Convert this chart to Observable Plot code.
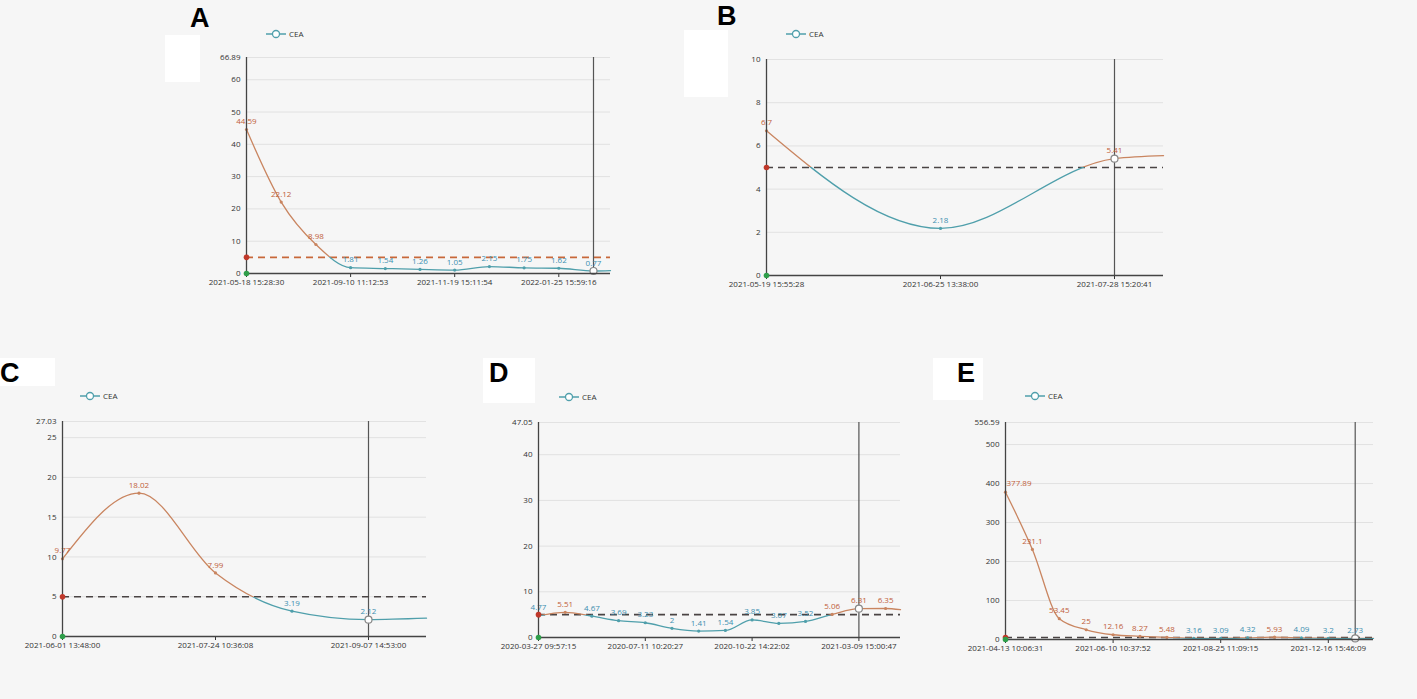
<!DOCTYPE html>
<html>
<head>
<meta charset="utf-8">
<script src="https://cdn.jsdelivr.net/npm/d3@7"></script>
<script src="https://cdn.jsdelivr.net/npm/@observablehq/plot@0.6"></script>
<style>
  html, body { margin: 0; padding: 0; background: #f6f6f6; }
  #root { position: relative; width: 1417px; height: 699px; overflow: hidden; background: #f6f6f6; font-family: "Liberation Sans", Arial, sans-serif; }
  .white { position: absolute; background: #ffffff; }
  .letter { position: absolute; font-weight: bold; font-size: 27px; color: #000; line-height: 1; font-family: "Liberation Sans", Arial, sans-serif; }
  .legend { position: absolute; font-size: 8px; color: #333; display: flex; align-items: center; gap: 3px; font-family: "Open Sans", sans-serif; }
  .panel { position: absolute; }
</style>
</head>
<body>
<div id="root"></div>
<script>
// ---------- DATA ----------
const valuesA = [44.59, 22.12, 8.98, 1.81, 1.54, 1.26, 1.05, 2.15, 1.75, 1.62, 0.77];
const tailA = 0.9;
const tickIdxA = [0, 3, 6, 9];
const tickLabelsA = ["2021-05-18 15:28:30", "2021-09-10 11:12:53", "2021-11-19 15:11:54", "2022-01-25 15:59:16"];
const yMaxA = 66.89;
const yTicksA = [0, 10, 20, 30, 40, 50, 60];
const selA = 10;

const valuesB = [6.7, 2.18, 5.41];
const tailB = 5.55;
const tickIdxB = [0, 1, 2];
const tickLabelsB = ["2021-05-19 15:55:28", "2021-06-25 13:38:00", "2021-07-28 15:20:41"];
const yMaxB = 10;
const yTicksB = [0, 2, 4, 6, 8];
const selB = 2;

const valuesC = [9.77, 18.02, 7.99, 3.19, 2.12];
const tailC = 2.3;
const tickIdxC = [0, 2, 4];
const tickLabelsC = ["2021-06-01 13:48:00", "2021-07-24 10:36:08", "2021-09-07 14:53:00"];
const yMaxC = 27.03;
const yTicksC = [0, 5, 10, 15, 20, 25];
const selC = 4;

const valuesD = [4.77, 5.51, 4.67, 3.69, 3.23, 2, 1.41, 1.54, 3.85, 3.07, 3.52, 5.06, 6.31, 6.35];
const tailD = 6.1;
const tickIdxD = [0, 4, 8, 12];
const tickLabelsD = ["2020-03-27 09:57:15", "2020-07-11 10:20:27", "2020-10-22 14:22:02", "2021-03-09 15:00:47"];
const yMaxD = 47.05;
const yTicksD = [0, 10, 20, 30, 40];
const selD = 12;

const valuesE = [377.89, 231.1, 53.45, 25, 12.16, 8.27, 5.48, 3.16, 3.09, 4.32, 5.93, 4.09, 3.2, 2.73];
const tailE = 2.7;
const tickIdxE = [0, 4, 8, 12];
const tickLabelsE = ["2021-04-13 10:06:31", "2021-06-10 10:37:52", "2021-08-25 11:09:15", "2021-12-16 15:46:09"];
const yMaxE = 556.59;
const yTicksE = [0, 100, 200, 300, 400, 500];
const selE = 13;

const threshold = 5;
const seriesName = "CEA";

// ---------- STYLE ----------
const ORANGE = "#c98560";
const ORANGE_TXT = "#c0603a";
const TEAL = "#4f9fab";
const TEAL_TXT = "#3c8fb0";

const root = document.getElementById("root");

function addDiv(cls, style, html) {
  const d = document.createElement("div");
  d.className = cls;
  Object.assign(d.style, style);
  if (html) d.innerHTML = html;
  root.appendChild(d);
  return d;
}

function legend(x, y) {
  addDiv("legend", {left: x + "px", top: y + "px"},
    `<svg width="20" height="10"><line x1="0" y1="5" x2="20" y2="5" stroke="${TEAL}" stroke-width="1.5"/><circle cx="10" cy="5" r="3.5" fill="#fff" stroke="${TEAL}" stroke-width="1.3"/></svg><span>${seriesName}</span>`);
}

let gid = 0;
function panel(cfg) {
  const {values, tail, tickIdx, tickLabels, yMax, yTicks, sel, x0, step, right, top, zero, dash, firstStart} = cfg;
  const mL = 45, mR = 6, mT = 10, mB = 26;
  const W = (right - x0) + mL + mR;
  const H = (zero - top) + mT + mB;
  const xMax = (right - x0) / step;
  const rows = values.map((v, i) => ({i, v}));
  const lineRows = [...rows, {i: xMax, v: tail}];
  const id = "grad" + (gid++);
  const labelRows = firstStart ? rows.slice(1) : rows;
  const plot = Plot.plot({
    width: W, height: H,
    marginLeft: mL, marginRight: mR, marginTop: mT, marginBottom: mB,
    style: {background: "transparent", fontFamily: "'Open Sans', sans-serif", fontSize: "8px", color: "#333", overflow: "visible"},
    x: {domain: [0, xMax], ticks: tickIdx, tickFormat: i => tickLabels[tickIdx.indexOf(i)], tickSize: 4, tickPadding: 2, label: null},
    y: {domain: [0, yMax], ticks: [...yTicks, yMax], tickFormat: d => String(d), tickSize: 0, tickPadding: 6, label: null, grid: true},
    color: {type: "identity"},
    marks: [
      Plot.ruleX([sel], {y1: 0, y2: yMax, stroke: "#555", strokeWidth: 1.2}),
      Plot.ruleY([threshold], {stroke: dash, strokeWidth: 1.6, strokeDasharray: "7,5"}),
      Plot.line(lineRows, {x: "i", y: "v", curve: "monotone-x", stroke: `url(#${id})`, strokeWidth: 1.3}),
      Plot.dot(rows.filter(d => d.i !== sel), {x: "i", y: "v", r: 1.6, fill: d => d.v > threshold ? ORANGE : TEAL, stroke: "none"}),
      Plot.dot(rows.filter(d => d.i === sel), {x: "i", y: "v", r: 3.5, fill: "#fff", stroke: "#888", strokeWidth: 1.2}),
      Plot.text(labelRows, {x: "i", y: "v", text: d => String(d.v), dy: -8, fill: d => d.v > threshold ? ORANGE_TXT : TEAL_TXT, fontSize: 8}),
      firstStart ? Plot.text(rows.slice(0, 1), {x: "i", y: "v", text: d => String(d.v), dy: -9, dx: 1, textAnchor: "start", fill: d => d.v > threshold ? ORANGE_TXT : TEAL_TXT, fontSize: 8}) : null,
      Plot.ruleX([0], {stroke: "#444", strokeWidth: 1.3}),
      Plot.ruleY([0], {stroke: "#444", strokeWidth: 1.3}),
      Plot.dot([{i: 0, v: threshold}], {x: "i", y: "v", r: 2.8, fill: "#c0392b"}),
      Plot.dot([{i: 0, v: 0}], {x: "i", y: "v", r: 2.8, fill: "#2e9e4a"})
    ]
  });
  // threshold-split gradient for the line
  const ty = plot.scale("y").apply(threshold);
  const ns = "http://www.w3.org/2000/svg";
  const defs = document.createElementNS(ns, "defs");
  const lg = document.createElementNS(ns, "linearGradient");
  lg.setAttribute("id", id);
  lg.setAttribute("gradientUnits", "userSpaceOnUse");
  lg.setAttribute("x1", 0); lg.setAttribute("x2", 0);
  lg.setAttribute("y1", 0); lg.setAttribute("y2", H);
  const off = ty / H;
  [[0, ORANGE], [off, ORANGE], [off, TEAL], [1, TEAL]].forEach(([o, c]) => {
    const s = document.createElementNS(ns, "stop");
    s.setAttribute("offset", o);
    s.setAttribute("stop-color", c);
    lg.appendChild(s);
  });
  defs.appendChild(lg);
  plot.insertBefore(defs, plot.firstChild);
  const wrap = addDiv("panel", {left: (x0 - mL) + "px", top: (top - mT) + "px"});
  wrap.appendChild(plot);
}

// white patches and letters
addDiv("white", {left: "165px", top: "35px", width: "35px", height: "47px"});
addDiv("white", {left: "684px", top: "30px", width: "44px", height: "67px"});
addDiv("white", {left: "0px", top: "358px", width: "55px", height: "28px"});
addDiv("white", {left: "483px", top: "358px", width: "52px", height: "45px"});
addDiv("white", {left: "933px", top: "358px", width: "50px", height: "42px"});

addDiv("letter", {left: "190px", top: "5px"}, "A");
addDiv("letter", {left: "717px", top: "3px"}, "B");
addDiv("letter", {left: "0px", top: "360px"}, "C");
addDiv("letter", {left: "489px", top: "360px"}, "D");
addDiv("letter", {left: "957px", top: "360px"}, "E");

legend(266, 28);
legend(786, 28);
legend(80, 390);
legend(559, 391);
legend(1025, 390);

panel({values: valuesA, tail: tailA, tickIdx: tickIdxA, tickLabels: tickLabelsA, yMax: yMaxA, yTicks: yTicksA, sel: selA,
  x0: 246, step: 34.7, right: 610, top: 57, zero: 273, dash: "#c8683a"});
panel({values: valuesB, tail: tailB, tickIdx: tickIdxB, tickLabels: tickLabelsB, yMax: yMaxB, yTicks: yTicksB, sel: selB,
  x0: 766, step: 174, right: 1163, top: 59, zero: 275, dash: "#4a4444"});
panel({values: valuesC, tail: tailC, tickIdx: tickIdxC, tickLabels: tickLabelsC, yMax: yMaxC, yTicks: yTicksC, sel: selC,
  x0: 62, step: 76.5, right: 426, top: 421, zero: 636, dash: "#4a4444"});
panel({values: valuesD, tail: tailD, tickIdx: tickIdxD, tickLabels: tickLabelsD, yMax: yMaxD, yTicks: yTicksD, sel: selD,
  x0: 538, step: 26.7, right: 900, top: 422, zero: 637, dash: "#4a4444"});
panel({values: valuesE, tail: tailE, tickIdx: tickIdxE, tickLabels: tickLabelsE, yMax: yMaxE, yTicks: yTicksE, sel: selE,
  x0: 1005, step: 26.9, right: 1373, top: 422, zero: 639, dash: "#4a4444", firstStart: true});
</script>
</body>
</html>
